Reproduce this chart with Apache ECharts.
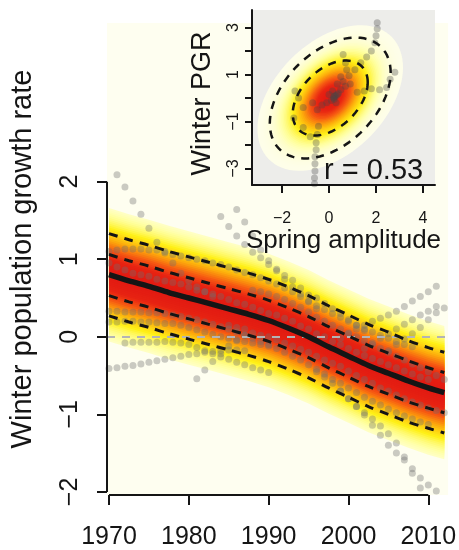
<!DOCTYPE html>
<html>
<head>
<meta charset="utf-8">
<script src="https://cdn.jsdelivr.net/npm/echarts@6/dist/echarts.min.js"></script>
<style>
  html, body { margin: 0; padding: 0; background: #fff; }
  #main { width: 459px; height: 550px; }
</style>
</head>
<body>
<div id="main"></div>
<script>
// ---- values ----
const xTicks = [1970, 1980, 1990, 2000, 2010];
const yTicks = [-2, -1, 0, 1, 2];

// fitted trend and its bands
const fitYears = [1970, 1972.5, 1975, 1977.5, 1980, 1982.5, 1985, 1987.5, 1990, 1992.5, 1995, 1997.5, 2000, 2002.5, 2005, 2007.5, 2010, 2012];
const fitMean  = [0.80, 0.72, 0.65, 0.57, 0.50, 0.43, 0.36, 0.29, 0.21, 0.11, 0.00, -0.13, -0.25, -0.37, -0.47, -0.57, -0.66, -0.72];
const fitUp95  = [1.33, 1.25, 1.18, 1.10, 1.03, 0.96, 0.89, 0.82, 0.74, 0.64, 0.53, 0.40, 0.28, 0.16, 0.06, -0.05, -0.14, -0.20];
const fitUp50  = [1.06, 0.98, 0.91, 0.83, 0.76, 0.69, 0.62, 0.55, 0.47, 0.37, 0.26, 0.13, 0.01, -0.11, -0.21, -0.31, -0.40, -0.46];
const fitLo50  = [0.53, 0.45, 0.38, 0.30, 0.23, 0.16, 0.09, 0.02, -0.06, -0.16, -0.27, -0.40, -0.52, -0.64, -0.74, -0.84, -0.92, -0.98];
const fitLo95  = [0.27, 0.19, 0.12, 0.04, -0.03, -0.10, -0.17, -0.24, -0.32, -0.42, -0.53, -0.66, -0.78, -0.90, -1.00, -1.10, -1.18, -1.24];
const bandSd = 0.33;

// grey site trajectories: first year, then one value per year
const trackSteep = { from: 1971, v: [2.09, 1.93, 1.75, 1.58, 1.40, 1.22, 1.08, 0.95, 0.82, 0.72, 0.64, 0.58, 0.52] };
const trackHigh  = { from: 1970, v: [1.10, 1.12, 1.13, 1.13, 1.13, 1.12, 1.12, 1.10, 1.06, 1.04, 1.02, 1.00, 0.98, 0.95, 0.93, 0.90, 0.86, 0.83, 0.80, 0.76, 0.72, 0.68, 0.63, 0.58, 0.52, 0.46, 0.40, 0.35, 0.30, 0.25, 0.20, 0.15, 0.10, 0.06, 0.02, -0.02, -0.06, -0.10, -0.13] };
const trackMid84 = { from: 1984, v: [1.55, 1.42, 1.30, 1.19, 1.09, 1.02, 0.93, 0.87, 0.79, 0.73, 0.63, 0.54, 0.50, 0.43, 0.36, 0.30, 0.22, 0.15, 0.08] };
const trackMid86 = { from: 1986, v: [1.64, 1.48, 1.30, 1.12, 0.98, 0.85, 0.74, 0.64, 0.55, 0.45, 0.36] };
const trackRiseA = { from: 1999, v: [-0.02, 0.04, 0.10, 0.15, 0.20, 0.24, 0.28, 0.33, 0.39, 0.46, 0.52, 0.58, 0.65] };
const trackRiseB = { from: 2002, v: [-0.15, -0.08, -0.02, 0.04, 0.10, 0.16, 0.22, 0.28, 0.33, 0.39] };
const trackRiseC = { from: 2005, v: [-0.18, -0.10, -0.03, 0.04, 0.12, 0.22, 0.31, 0.37] };
const trackFallA = { from: 1996, v: [-0.45, -0.52, -0.60, -0.70, -0.80, -0.90, -1.01, -1.14, -1.27, -1.40, -1.50, -1.59, -1.76, -1.95] };
const trackFallB = { from: 1999, v: [-0.70, -0.80, -0.90, -0.98, -1.06, -1.15, -1.25, -1.37, -1.55, -1.70, -1.82, -1.91, -1.99] };
const trackLow   = { from: 1970, v: [-0.41, -0.40, -0.38, -0.37, -0.35, -0.33, -0.31, -0.29, -0.27, -0.25, -0.23, -0.22, -0.20, -0.19, -0.18, -0.17, -0.17, -0.18] };
const trackKink  = { from: 1981, v: [-0.54, -0.43, -0.32, -0.22, -0.12, -0.05, 0.02] };
const trackZero  = { from: 1972, v: [-0.08, -0.07, -0.07, -0.07, -0.07, -0.06, -0.07, -0.08, -0.10, -0.14, -0.18, -0.22, -0.26, -0.29, -0.33, -0.36, -0.40, -0.43, -0.46] };
const trackIn1   = { from: 1970, v: [0.33, 0.33, 0.32, 0.32, 0.32, 0.31, 0.31, 0.30, 0.28, 0.26, 0.24, 0.22, 0.19, 0.16, 0.13, 0.10, 0.06, 0.02, -0.02, -0.06, -0.10, -0.15, -0.20, -0.25, -0.30, -0.36, -0.42, -0.48, -0.55, -0.60, -0.66, -0.72, -0.78, -0.83, -0.88, -0.93, -0.98, -1.02, -1.06, -1.10, -1.13] };
const trackIn2   = { from: 1970, v: [0.19, 0.19, 0.20, 0.20, 0.19, 0.19, 0.18, 0.17, 0.17, 0.15, 0.12, 0.09, 0.06, 0.03, 0.00, -0.02, -0.04, -0.06, -0.08, -0.10, -0.12] };
const trackIn3   = { from: 1970, v: [0.95, 0.90, 0.86, 0.82, 0.80, 0.78, 0.74, 0.72, 0.70, 0.68, 0.64, 0.60, 0.58, 0.55, 0.52, 0.48, 0.44, 0.42, 0.38, 0.34, 0.30, 0.28, 0.24, 0.20, 0.14, 0.10, 0.04, 0.00, -0.06, -0.10, -0.15, -0.20, -0.24, -0.28, -0.32, -0.36, -0.40, -0.44, -0.48, -0.52, -0.55] };
const trackIn4   = { from: 1985, v: [0.15, 0.12, 0.10, 0.05, 0.02, 0.00, -0.04, -0.08, -0.12, -0.16, -0.20, -0.25, -0.30, -0.34, -0.38, -0.44, -0.50, -0.55, -0.60, -0.66, -0.70, -0.75, -0.80, -0.84, -0.88, -0.92, -0.95, -0.98] };
const trackIn5   = { from: 1988, v: [0.60, 0.58, 0.55, 0.52, 0.48, 0.43, 0.38, 0.32, 0.25, 0.20, 0.15, 0.10, 0.05, 0.00, -0.05, -0.10, -0.15, -0.20, -0.25, -0.30, -0.35, -0.40, -0.45, -0.50, -0.55] };

// inset: spring amplitude vs winter PGR
const insetXTicks = [-2, 0, 2, 4];
const insetYTicks = [-3, -2, -1, 0, 1, 2, 3];
const insetYLabels = [-3, -1, 1, 3];
const insetMean = [0.05, 0.0];
const insetSd = [1.05, 1.05];
const ellipseRho = 0.42;
const ellipseLevels = [1.52, 2.45];
const insetChainA = [[-0.45, -1.2], [-0.5, -1.55], [-0.55, -1.9], [-0.55, -2.2], [-0.6, -2.5], [-0.6, -2.8], [-0.6, -3.1], [-0.62, -3.4], [-0.62, -3.65]];
const insetChainB = [[2.05, 3.2], [2.05, 2.95], [2.0, 2.65], [1.95, 2.35], [1.8, 2.0], [1.6, 1.75], [1.35, 1.5], [1.1, 1.2], [0.85, 0.95], [0.6, 0.7]];
const insetChainC = [[2.8, 1.1], [2.6, 0.8], [2.45, 0.45], [2.15, 0.35], [1.8, 0.4], [1.5, 0.3], [1.2, 0.25]];
const insetChainD = [[0.6, 1.85], [0.7, 1.5], [0.75, 1.2], [0.5, 0.9], [0.35, 0.6]];
const insetChainE = [[-1.45, 0.3], [-1.3, 0.0], [-1.1, -0.4], [-1.5, -0.85], [-1.1, -1.25], [-0.8, -1.65]];
const insetCore = [[0.2, 0.0], [0.25, 0.1], [0.1, -0.1], [0.4, 0.2], [-0.1, -0.2], [0.5, 0.35], [0.0, 0.15], [-0.3, -0.3], [0.3, -0.2], [0.7, 0.5], [-0.5, -0.5], [0.9, 0.6], [-0.7, -0.2], [0.15, 0.3], [0.2, 0.05], [0.3, 0.1], [0.22, -0.05], [0.35, 0.15]];
const rText = 'r = 0.53';

// ---- drawing ----
const FONT = 'Liberation Sans, Arial, sans-serif';
const INK = '#151515';
const xMin = 1969.75, xMax = 2012.48, yMin = -2.04, yMax = 4.045;

const heatStops = [
  [0, [254, 254, 236]], [0.06, [255, 255, 160]], [0.18, [255, 240, 22]],
  [0.38, [253, 170, 12]], [0.6, [246, 88, 18]], [0.8, [232, 36, 18]], [1, [226, 26, 18]]
];
function heat(t) {
  for (let i = 1; i < heatStops.length; i++) {
    if (t <= heatStops[i][0]) {
      const a = heatStops[i - 1], b = heatStops[i];
      const f = (t - a[0]) / (b[0] - a[0]);
      const c = a[1].map((v, k) => Math.round(v + (b[1][k] - v) * f));
      return 'rgb(' + c.join(',') + ')';
    }
  }
  return 'rgb(226,26,18)';
}
const minus = v => String(v).replace('-', '\u2212');

const bandLevels = [];
for (let w = 0.86; w > 0.01; w -= 0.025) bandLevels.push(w);
const insetLevels = [];
for (let c = 2.95; c > 0.03; c -= 0.06) insetLevels.push(c);

function trackPoints(tr) {
  return tr.v.map((val, i) => [tr.from + i, val]);
}
const mainDots = [trackSteep, trackHigh, trackMid84, trackMid86, trackRiseA, trackRiseB, trackRiseC,
  trackFallA, trackFallB, trackLow, trackKink, trackZero, trackIn1, trackIn2, trackIn3, trackIn4, trackIn5]
  .reduce((acc, tr) => acc.concat(trackPoints(tr)), []);
const insetDots = [].concat(insetChainA, insetChainB, insetChainC, insetChainD, insetChainE, insetCore);

function ellipsePts(api, c) {
  const pts = [];
  const q = Math.sqrt(1 - ellipseRho * ellipseRho);
  for (let k = 0; k < 90; k++) {
    const a = k / 90 * Math.PI * 2;
    const u = Math.cos(a) * c, v = Math.sin(a) * c;
    pts.push(api.coord([insetMean[0] + insetSd[0] * u, insetMean[1] + insetSd[1] * (ellipseRho * u + q * v)]));
  }
  return pts;
}

function fitLine(vals, width, dash) {
  return {
    type: 'line', xAxisIndex: 0, yAxisIndex: 0, z: dash ? 6 : 7,
    data: fitYears.map((yr, i) => [yr, vals[i]]),
    smooth: 0.3, symbol: 'none', silent: true,
    lineStyle: { color: INK, width: width, type: dash ? [9, 7] : 'solid', cap: 'butt' }
  };
}

const myChart = echarts.init(document.getElementById('main'), null, { renderer: 'canvas' });
const options = {
  animation: false,
  textStyle: { fontFamily: FONT },
  grid: [
    { left: 105, top: 23, right: 10, bottom: 51, show: true, backgroundColor: '#fefef0', borderWidth: 0 },
    { left: 252, top: 10, right: 24, bottom: 365, show: true, backgroundColor: '#ededea', borderWidth: 0, z: 1 }
  ],
  xAxis: [
    {
      type: 'value', gridIndex: 0, min: xMin, max: xMax, position: 'bottom',
      axisLine: { show: false, onZero: false },
      axisTick: { show: true, customValues: xTicks, length: 10, lineStyle: { color: INK, width: 2 } },
      axisLabel: { customValues: xTicks, fontSize: 25, color: INK, margin: 30, fontFamily: FONT, formatter: v => String(v) },
      splitLine: { show: false }
    },
    {
      type: 'value', gridIndex: 1, min: -3.28, max: 4.51, position: 'bottom', z: 10,
      axisLine: { show: true, onZero: false, lineStyle: { color: INK, width: 2 } },
      axisTick: { show: true, customValues: insetXTicks, length: 8, lineStyle: { color: INK, width: 2 } },
      axisLabel: { customValues: insetXTicks, fontSize: 16, color: INK, margin: 26, fontFamily: FONT, formatter: minus },
      splitLine: { show: false },
      name: 'Spring amplitude', nameLocation: 'middle', nameGap: 35,
      nameTextStyle: { fontSize: 26, color: INK, fontFamily: FONT }
    }
  ],
  yAxis: [
    {
      type: 'value', gridIndex: 0, min: yMin, max: yMax, position: 'left',
      axisLine: { show: false, onZero: false },
      axisTick: { show: true, customValues: yTicks, length: 10, lineStyle: { color: INK, width: 2 } },
      axisLabel: { customValues: yTicks, fontSize: 25, color: INK, margin: 24, rotate: 90, fontFamily: FONT, formatter: minus },
      splitLine: { show: false },
      name: 'Winter population growth rate', nameLocation: 'middle', nameGap: 70, nameRotate: 90,
      nameTextStyle: { fontSize: 29, color: INK, fontFamily: FONT }
    },
    {
      type: 'value', gridIndex: 1, min: -3.70, max: 3.745, position: 'left', z: 10,
      axisLine: { show: true, onZero: false, lineStyle: { color: INK, width: 2 } },
      axisTick: { show: true, customValues: insetYTicks, length: 7, lineStyle: { color: INK, width: 2 } },
      axisLabel: { customValues: insetYLabels, fontSize: 16, color: INK, margin: 10, rotate: 90, fontFamily: FONT, formatter: minus },
      splitLine: { show: false },
      name: 'Winter PGR', nameLocation: 'middle', nameGap: 36, nameRotate: 90,
      nameTextStyle: { fontSize: 27, color: INK, fontFamily: FONT, padding: [0, 12, 0, 0] }
    }
  ],
  graphic: [
    {
      type: 'text', z: 100, left: 324, top: 156,
      style: { text: rText, fontSize: 29, fill: INK, fontFamily: FONT }
    }
  ],
  series: [
    // posterior density band around the trend
    {
      type: 'custom', xAxisIndex: 0, yAxisIndex: 0, z: 2, silent: true,
      data: bandLevels.map(w => [w]),
      renderItem: function (params, api) {
        const w = bandLevels[params.dataIndex];
        const up = fitYears.map((yr, i) => api.coord([yr, fitMean[i] + w]));
        const dn = fitYears.map((yr, i) => api.coord([yr, fitMean[i] - w])).reverse();
        const t = Math.exp(-w * w / (2 * bandSd * bandSd));
        return { type: 'polygon', shape: { points: up.concat(dn) }, style: { fill: heat(t) } };
      }
    },
    {
      type: 'scatter', xAxisIndex: 0, yAxisIndex: 0, z: 3, silent: true,
      data: mainDots, symbolSize: 7,
      itemStyle: { color: 'rgba(110,110,110,0.45)' }
    },
    // zero line and R-style axis lines
    {
      type: 'line', xAxisIndex: 0, yAxisIndex: 0, data: [], z: 5, clip: false,
      markLine: {
        silent: true, symbol: ['none', 'none'], label: { show: false },
        data: [
          { yAxis: 0, lineStyle: { color: '#b4b4b4', width: 2, type: [8, 7] } },
          [{ coord: [xTicks[0], yMin], lineStyle: { color: INK, width: 2, type: 'solid' } }, { coord: [xTicks[xTicks.length - 1], yMin] }],
          [{ coord: [xMin, yTicks[0]], lineStyle: { color: INK, width: 2, type: 'solid' } }, { coord: [xMin, yTicks[yTicks.length - 1]] }]
        ]
      }
    },
    fitLine(fitUp95, 3, true),
    fitLine(fitUp50, 3, true),
    fitLine(fitLo50, 3, true),
    fitLine(fitLo95, 3, true),
    fitLine(fitMean, 5.5, false),
    // inset density
    {
      type: 'custom', xAxisIndex: 1, yAxisIndex: 1, z: 2, silent: true,
      data: insetLevels.map(c => [c]),
      renderItem: function (params, api) {
        const c = insetLevels[params.dataIndex];
        const t = Math.exp(-c * c / 1.4);
        return { type: 'polygon', shape: { points: ellipsePts(api, c) }, style: { fill: heat(t) } };
      }
    },
    {
      type: 'scatter', xAxisIndex: 1, yAxisIndex: 1, z: 3, silent: true,
      data: insetDots, symbolSize: 7,
      itemStyle: { color: 'rgba(70,70,70,0.42)' }
    },
    {
      type: 'custom', xAxisIndex: 1, yAxisIndex: 1, z: 4, silent: true,
      data: ellipseLevels.map(c => [c]),
      renderItem: function (params, api) {
        const c = ellipseLevels[params.dataIndex];
        return {
          type: 'polygon', shape: { points: ellipsePts(api, c) },
          style: { fill: 'none', stroke: INK, lineWidth: 2.5, lineDash: [8, 7] }
        };
      }
    }
  ]
};
myChart.setOption(options);
</script>
</body>
</html>
